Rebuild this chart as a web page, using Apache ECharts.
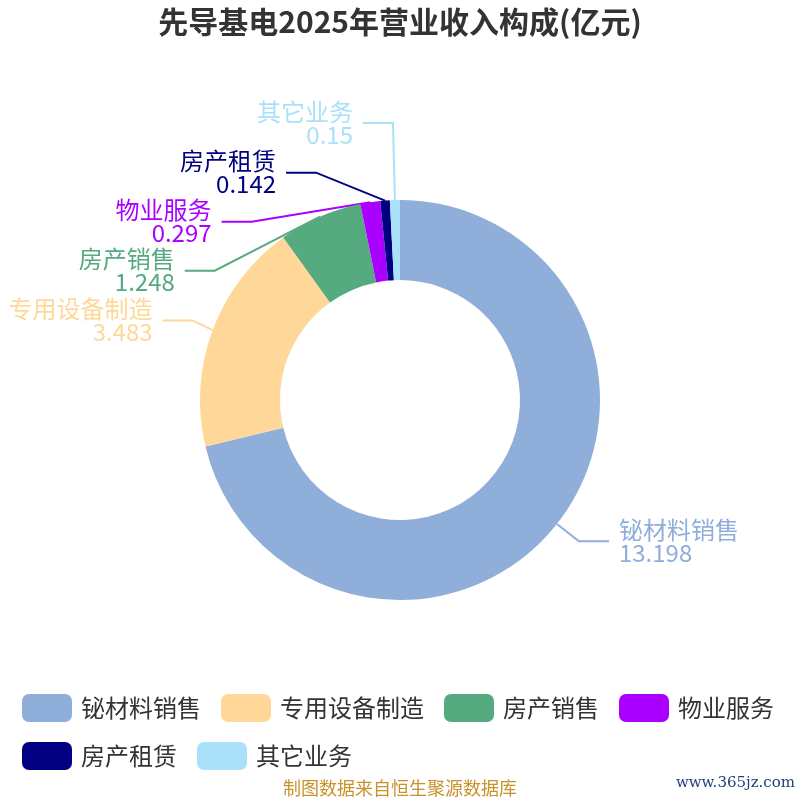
<!DOCTYPE html>
<html>
<head>
    <meta charset="utf-8">
    <title>先导基电2025年营业收入构成</title>
    <script src="https://cdn.jsdelivr.net/npm/echarts@6/dist/echarts.min.js"></script>
    <style>
        html, body { margin: 0; padding: 0; background: #fff; }
    </style>
</head>
<body>
    <div id="main" style="width: 800px;height:800px;"></div>
    <script type="text/javascript">
        // 数据
        var categories = ['铋材料销售', '专用设备制造', '房产销售', '物业服务', '房产租赁', '其它业务'];
        var values = [13.198, 3.483, 1.248, 0.297, 0.142, 0.15];
        var colors = ['#8FAEDA', '#FFD899', '#55AA7F', '#AA00FF', '#000080', '#AAE1FA'];
        // 引导线第一段长度（其它业务标签放得更高）
        var lineLengths = [28, 28, 28, 28, 28, 77];

        // 饼图几何
        var cx = 400, cy = 400, outerR = 200, innerR = 120;
        var len1 = 28, len2 = 30;

        var myChart = echarts.init(document.getElementById('main'));
        var font = '"Noto Sans CJK SC", "Noto Sans", sans-serif';

        var option = {
            color: colors,
            title: {
                text: '先导基电2025年营业收入构成(亿元)',
                left: 'center',
                top: 2,
                textStyle: {
                    fontFamily: font,
                    fontSize: 30,
                    fontWeight: 'bold',
                    color: '#333'
                }
            },
            legend: {
                left: 22,
                top: 694,
                width: 780,
                padding: 0,
                itemWidth: 50,
                itemHeight: 28,
                itemGap: 20,
                itemStyle: { borderRadius: 6 },
                textStyle: {
                    fontFamily: font,
                    fontSize: 24,
                    color: '#333',
                    padding: [0, 0, 0, 4]
                },
                data: categories
            },
            graphic: [{
                type: 'text',
                left: 'center',
                top: 779,
                style: {
                    text: '制图数据来自恒生聚源数据库',
                    fontFamily: font,
                    fontSize: 18,
                    fill: '#C9912B'
                }
            }, {
                type: 'text',
                right: 5,
                top: 776,
                style: {
                    text: 'www.365jz.com',
                    fontFamily: '"DejaVu Serif", serif',
                    fontSize: 15,
                    fill: '#1F3F7A'
                }
            }],
            series: [{
                type: 'pie',
                center: [cx, cy],
                radius: [innerR, outerR],
                startAngle: 90,
                label: {
                    show: true,
                    formatter: '{b}\n{c}',
                    fontFamily: font,
                    fontSize: 24,
                    lineHeight: 23,
                    overflow: 'none',
                    color: 'inherit',
                    distanceToLabelLine: 10
                },
                labelLine: {
                    show: true,
                    length: len1,
                    length2: len2,
                    lineStyle: { width: 2 }
                },
                // 左侧被挤开的标签沿圆弧收拢
                labelLayout: function(params) {
                    var pts = params.labelLinePoints;
                    if (!pts) return {};
                    var y = pts[2][1];
                    var dy = Math.abs(y - cy);
                    if (pts[0][0] >= cx || dy >= outerR + len1) return {};
                    var dx = Math.sqrt(Math.pow(outerR + len1 + len2, 2) - dy * dy);
                    var ax = cx - dx;
                    return {
                        x: ax - 2,
                        labelLinePoints: [pts[0], [ax + 8 + len2, y], [ax + 8, y]]
                    };
                },
                data: categories.map(function(name, i) {
                    return {
                        name: name,
                        value: values[i],
                        label: { color: colors[i] },
                        labelLine: { length: lineLengths[i], lineStyle: { color: colors[i] } }
                    };
                })
            }]
        };

        myChart.setOption(option);
    </script>
</body>
</html>
